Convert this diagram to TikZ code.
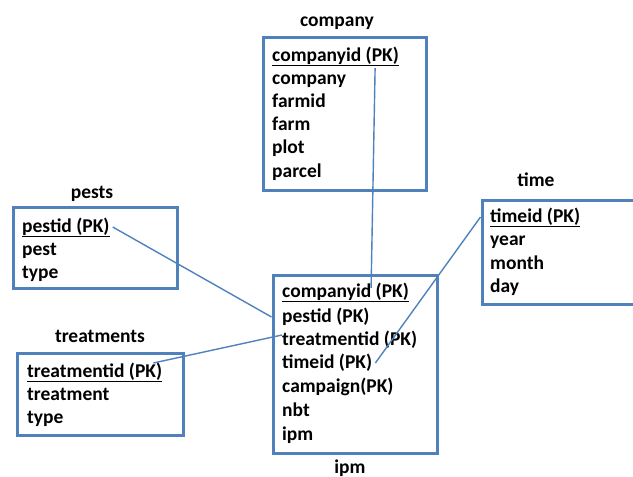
\documentclass[tikz,border=0pt]{standalone}
\usepackage{fontspec}
\setmainfont{Carlito}
\usepackage{tikz}
\definecolor{erblue}{RGB}{79,129,189}
\tikzset{
	tbl/.style={draw=erblue,line width=3pt,rectangle,inner sep=0pt},
	row/.style={anchor=west,inner sep=0pt,text height=14pt,text depth=4pt,font=\fontsize{19.5}{23.5}\selectfont\bfseries},
	ttl/.style={inner sep=0pt,text height=14pt,text depth=4pt,font=\fontsize{19.5}{23.5}\selectfont\bfseries},
	link/.style={draw=erblue,line width=1.4pt}
}

\begin{document}
\begin{tikzpicture}[x=1pt,y=-1pt]
		\useasboundingbox (0,0) rectangle (633,477);
		% tables
		\node[tbl,minimum width=163pt,minimum height=153pt] (company) at (344.5,113.5) {};
		\node[tbl,minimum width=164pt,minimum height=178pt] (ipm) at (355,364) {};
		\node[tbl,minimum width=164pt,minimum height=81pt] (pests) at (95,247.5) {};
		\node[tbl,minimum width=166pt,minimum height=82pt] (treatments) at (100,394) {};
		\node[tbl,minimum width=178pt,minimum height=104pt] (time) at (571,252) {};
		% titles
		\node[ttl] (companyT) at (337,21) {company};
		\node[ttl] (ipmT) at (350,468) {ipm};
		\node[ttl] (pestsT) at (92,193) {pests};
		\node[ttl] (treatmentsT) at (100,337) {treatments};
		\node[ttl] (timeT) at (536,181) {time};
		% company
		\node[row] (cid) at (272,56) {\underline{companyid (PK)}};
		\foreach \t [count=\i] in {company,farmid,farm,plot,parcel}
		\node[row] (co\i) at (272,{56+\i*23.2}) {\t};
		% ipm
		\node[row] (icid) at (282,292) {\underline{companyid (PK)}};
		\node[row] (ipid) at (282,317) {pestid (PK)};
		\node[row] (itid) at (282,340) {treatmentid (PK)};
		\node[row] (itime) at (282,363) {timeid (PK)};
		\node[row] (icamp) at (282,387) {campaign(PK)};
		\node[row] (inbt) at (282,411) {nbt};
		\node[row] (iipm) at (282,435) {ipm};
		% pests
		\node[row] (pid) at (22,227) {\underline{pestid (PK)}};
		\node[row] (pest) at (22,250) {pest};
		\node[row] (ptype) at (22,273) {type};
		% treatments
		\node[row] (ttid) at (27,372) {\underline{treatmentid (PK)}};
		\node[row] (treat) at (27,395) {treatment};
		\node[row] (ttype) at (27,418) {type};
		% time
		\node[row] (tid) at (490,217) {\underline{timeid (PK)}};
		\node[row] (year) at (490,240) {year};
		\node[row] (month) at (490,264) {month};
		\node[row] (day) at (490,287) {day};

		\draw[link] ([xshift=-24pt,yshift=-3pt]cid.south east) -- ([xshift=-38pt,yshift=-5pt]icid.north east);
		\draw[link] ([xshift=3pt]pid.east) -- (ipm.west |- ipid);
		\draw[link] ([xshift=-9pt,yshift=9pt]ttid.east) -- ([yshift=5pt]itid.west);
		\draw[link] ([xshift=3pt]itime.east) -- (time.west |- tid);
	    \end{tikzpicture}
\end{document}
